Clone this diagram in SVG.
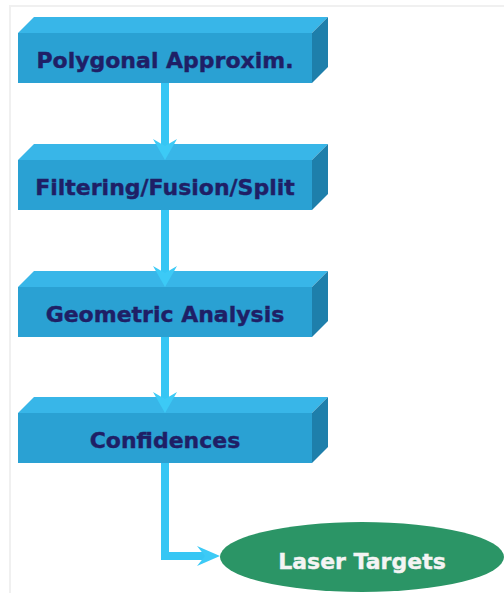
<svg xmlns="http://www.w3.org/2000/svg" width="504" height="593" viewBox="0 0 504 593">
<style>
.front{fill:#2aa1d3}
.top{fill:#38b6e8}
.side{fill:#1e7fab}
.lbl{font-family:"DejaVu Sans","Liberation Sans",sans-serif;font-weight:bold;font-size:22px;fill:#1f1f66;stroke:#1f1f66;stroke-width:0.4;text-anchor:middle}
.conn{fill:none;stroke:#36c6f4;stroke-width:8}
.head{fill:#3ccaf6}
</style>
<rect x="0" y="0" width="504" height="593" fill="#ffffff"/>
<path d="M10 593 V6 H504" fill="none" stroke="#f0f0f0" stroke-width="2"/>
<g id="node1">
<polygon class="top" points="18,33 34,17 328,17 312,33"/>
<polygon class="side" points="312,33 328,17 328,67 312,83"/>
<rect class="front" x="18" y="33" width="294" height="50"/>
<text class="lbl" x="165" y="68">Polygonal Approxim.</text>
</g>
<g id="node2">
<polygon class="top" points="18,160 34,144 328,144 312,160"/>
<polygon class="side" points="312,160 328,144 328,194 312,210"/>
<rect class="front" x="18" y="160" width="294" height="50"/>
<text class="lbl" x="165" y="195">Filtering/Fusion/Split</text>
</g>
<g id="node3">
<polygon class="top" points="18,287 34,271 328,271 312,287"/>
<polygon class="side" points="312,287 328,271 328,321 312,337"/>
<rect class="front" x="18" y="287" width="294" height="50"/>
<text class="lbl" x="165" y="322">Geometric Analysis</text>
</g>
<g id="node4">
<polygon class="top" points="18,413 34,397 328,397 312,413"/>
<polygon class="side" points="312,413 328,397 328,447 312,463"/>
<rect class="front" x="18" y="413" width="294" height="50"/>
<text class="lbl" x="165" y="448">Confidences</text>
</g>
<g id="node5">
<ellipse cx="362" cy="557" rx="142" ry="35" fill="#2b9566"/>
<text x="362" y="569" font-family="DejaVu Sans, Liberation Sans, sans-serif" font-weight="bold" font-size="22" fill="#f4f4f4" stroke="#f4f4f4" stroke-width="0.4" text-anchor="middle">Laser Targets</text>
</g>
<g id="connectors">
<line class="conn" x1="165" y1="83" x2="165" y2="146"/>
<path class="head" d="M153,139 L165,146 L177,139 L165,160 Z"/>
<line class="conn" x1="165" y1="210" x2="165" y2="273"/>
<path class="head" d="M153,266 L165,273 L177,266 L165,287 Z"/>
<line class="conn" x1="165" y1="337" x2="165" y2="399"/>
<path class="head" d="M153,392 L165,399 L177,392 L165,413 Z"/>
<polyline class="conn" points="165,463 165,556 206,556"/>
<path class="head" d="M197,546 L205,556 L197,566 L220,556 Z"/>
</g>
</svg>
